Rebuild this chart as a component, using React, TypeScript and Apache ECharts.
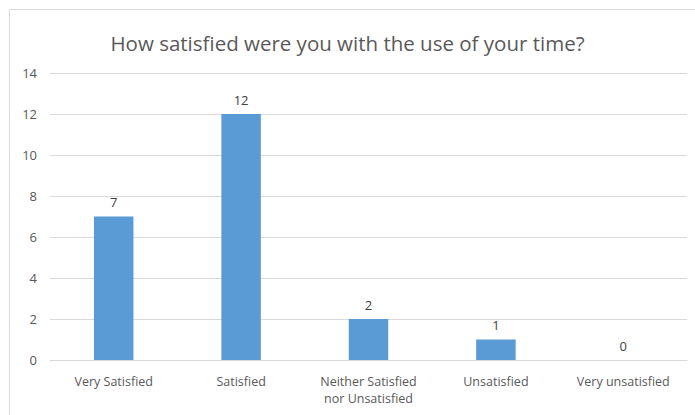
import React, { useEffect, useRef } from "react";
import * as echarts from "echarts";

const categories = [
  "Very Satisfied",
  "Satisfied",
  "Neither Satisfied\nnor Unsatisfied",
  "Unsatisfied",
  "Very unsatisfied",
];
const values = [7, 12, 2, 1, 0];
const titleText = "How satisfied were you with the use of your time?";

export default function App() {
  const ref = useRef<HTMLDivElement>(null);
  useEffect(() => {
    if (!ref.current) return;
    const chart = echarts.init(ref.current, null, { renderer: "svg" });
    const font = "'Open Sans', 'Noto Sans', sans-serif";
    chart.setOption({
      animation: false,
      textStyle: { fontFamily: font },
      graphic: [
        {
          type: "rect",
          shape: { x: 9.5, y: 9.5, width: 700, height: 420 },
          style: { fill: "#fff", stroke: "#d9d9d9", lineWidth: 1 },
          z: -10,
        },
      ],
      title: {
        text: titleText,
        left: "center",
        top: 27,
        textStyle: { fontFamily: font, fontSize: 20.5, fontWeight: "normal", color: "#595959" },
      },
      grid: { left: 50, right: 8, top: 73, bottom: 55 },
      xAxis: {
        type: "category",
        data: categories,
        axisLine: { lineStyle: { color: "#d9d9d9" } },
        axisTick: { show: false },
        axisLabel: {
          interval: 0,
          color: "#595959",
          fontSize: 12.5,
          fontFamily: font,
          margin: 13,
          lineHeight: 17,
        },
      },
      yAxis: {
        type: "value",
        min: 0,
        max: 14,
        interval: 2,
        axisLine: { show: false },
        axisTick: { show: false },
        splitLine: { lineStyle: { color: "#d9d9d9" } },
        axisLabel: { color: "#595959", fontSize: 13, fontFamily: font, margin: 13 },
      },
      series: [
        {
          type: "bar",
          data: values,
          barWidth: "31%",
          itemStyle: { color: "#5B9BD5" },
          label: {
            show: true,
            position: "top",
            color: "#404040",
            fontSize: 13,
            fontFamily: font,
            distance: 8,
          },
        },
      ],
    });
    return () => chart.dispose();
  }, []);
  return (
    <div
      ref={ref}
      style={{ position: "absolute", left: 0, top: 0, width: 695, height: 415 }}
    />
  );
}
